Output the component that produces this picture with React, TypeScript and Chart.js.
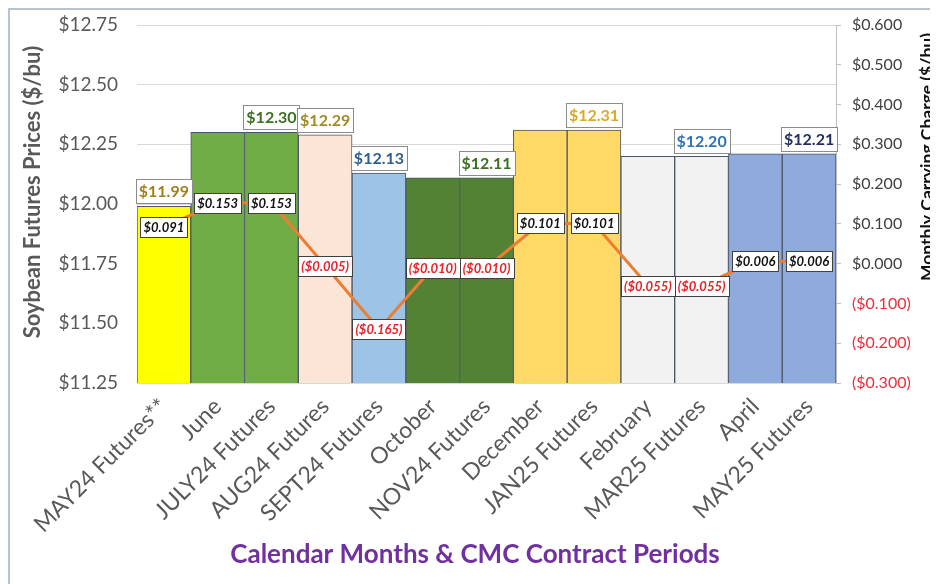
import React, { useEffect, useRef } from 'react';
import { Chart, registerables } from 'chart.js';

Chart.register(...registerables);

const categories = [
  'MAY24 Futures**', 'June', 'JULY24 Futures', 'AUG24 Futures', 'SEPT24 Futures', 'October',
  'NOV24 Futures', 'December', 'JAN25 Futures', 'February', 'MAR25 Futures', 'April', 'MAY25 Futures',
];
const prices = [11.99, 12.30, 12.30, 12.29, 12.13, 12.11, 12.11, 12.31, 12.31, 12.20, 12.20, 12.21, 12.21];
const carryingCharge = [0.091, 0.153, 0.153, -0.005, -0.165, -0.010, -0.010, 0.101, 0.101, -0.055, -0.055, 0.006, 0.006];
const priceLabelShown = [true, false, true, true, true, false, true, false, true, false, true, false, true];
const barColors = [
  '#FFFF00', '#70AD47', '#70AD47', '#FBE5D6', '#9DC3E6', '#548235', '#548235',
  '#FFD966', '#FFD966', '#F2F2F2', '#F2F2F2', '#8FAADC', '#8FAADC',
];
const priceLabelColors = [
  '#A0801E', '#3F6F24', '#3F6F24', '#A08A2A', '#2F5F8F', '#3F6F24', '#3F6F24',
  '#D9A92A', '#D9A92A', '#2E75B6', '#2E75B6', '#1F2F5F', '#1F2F5F',
];
const priceMin = 11.25;
const priceMax = 12.75;
const priceStep = 0.25;
const chargeMin = -0.3;
const chargeMax = 0.6;
const chargeStep = 0.1;

const leftTitle = 'Soybean Futures Prices ($/bu)';
const rightTitle = 'Monthly Carrying Charge ($/bu)';
const bottomTitle = 'Calendar Months & CMC Contract Periods';

const fmtCharge = (v: number) =>
  v < -1e-9 ? `($${Math.abs(v).toFixed(3)})` : `$${Math.abs(v).toFixed(3)}`;

const labelPlugin = {
  id: 'customLabels',
  afterDatasetsDraw(chart: any) {
    const ctx = chart.ctx as CanvasRenderingContext2D;
    const barMeta = chart.getDatasetMeta(0);
    const lineMeta = chart.getDatasetMeta(1);
    ctx.save();
    ctx.textAlign = 'center';
    ctx.textBaseline = 'middle';
    // price labels above bars
    ctx.font = 'bold 16px Lato';
    barMeta.data.forEach((bar: any, i: number) => {
      if (!priceLabelShown[i]) return;
      const text = '$' + prices[i].toFixed(2);
      const w = Math.round(ctx.measureText(text).width + 6);
      const h = 24;
      const x = Math.round(bar.x - w / 2);
      const y = Math.round(bar.y - h - 3);
      ctx.fillStyle = '#ffffff';
      ctx.fillRect(x, y, w, h);
      ctx.strokeStyle = '#8C8C8C';
      ctx.lineWidth = 1;
      ctx.strokeRect(x + 0.5, y + 0.5, w, h);
      ctx.fillStyle = priceLabelColors[i];
      ctx.fillText(text, bar.x, y + h / 2 + 1);
    });
    // carrying charge labels
    ctx.font = 'italic bold 13px Lato';
    lineMeta.data.forEach((pt: any, i: number) => {
      const v = carryingCharge[i];
      const text = fmtCharge(v);
      const w = Math.round(ctx.measureText(text).width + 6);
      const h = 20;
      const x = Math.round(pt.x - w / 2);
      const y = Math.round(pt.y - h / 2);
      ctx.fillStyle = '#ffffff';
      ctx.fillRect(x, y, w, h);
      ctx.strokeStyle = '#404040';
      ctx.lineWidth = 1;
      ctx.strokeRect(x + 0.5, y + 0.5, w, h);
      ctx.fillStyle = v < 0 ? '#E8202A' : '#111111';
      ctx.fillText(text, pt.x, y + h / 2 + 1);
    });
    ctx.restore();
  },
  afterDraw(chart: any) {
    const ctx = chart.ctx as CanvasRenderingContext2D;
    ctx.save();
    ctx.textAlign = 'center';
    ctx.textBaseline = 'middle';
    // left title
    ctx.save();
    ctx.translate(23, 182);
    ctx.rotate(-Math.PI / 2);
    ctx.font = 'bold 22px Lato';
    ctx.fillStyle = '#595959';
    ctx.fillText(leftTitle, 0, 0);
    ctx.restore();
    // right title
    ctx.save();
    ctx.translate(917, 147);
    ctx.rotate(-Math.PI / 2);
    ctx.font = 'bold 17.5px Lato';
    ctx.fillStyle = '#111111';
    ctx.fillText(rightTitle, 0, 0);
    ctx.restore();
    // bottom title
    ctx.font = 'bold 26px Lato';
    ctx.fillStyle = '#7030A0';
    ctx.fillText(bottomTitle, 465, 545);
    ctx.restore();
  },
};

export default function App() {
  const ref = useRef<HTMLCanvasElement>(null);
  useEffect(() => {
    Chart.defaults.font.family = 'Lato';
    const chart = new Chart(ref.current!, {
      type: 'bar',
      data: {
        labels: categories,
        datasets: [
          {
            type: 'bar',
            data: prices,
            yAxisID: 'y',
            backgroundColor: barColors,
            borderColor: '#4A5566',
            borderWidth: 1,
            categoryPercentage: 1,
            barPercentage: 1,
            order: 2,
          } as any,
          {
            type: 'line',
            data: carryingCharge,
            yAxisID: 'y1',
            borderColor: '#ED7D31',
            borderWidth: 3,
            pointRadius: 0,
            tension: 0,
            order: 1,
          } as any,
        ],
      },
      options: {
        responsive: false,
        animation: false,
        layout: { padding: { top: 0, left: 0, right: 0, bottom: 0 } },
        plugins: { legend: { display: false }, tooltip: { enabled: false } },
        scales: {
          x: {
            grid: { display: false, drawTicks: false },
            border: { display: false },
            ticks: {
              minRotation: 45,
              maxRotation: 45,
              autoSkip: false,
              padding: 10,
              color: '#595959',
              font: { size: 23, family: 'Lato' },
            },
            afterFit(scale: any) {
              scale.height = 201;
              scale.paddingLeft = 0;
              scale.paddingRight = 0;
            },
          },
          y: {
            position: 'left',
            min: priceMin,
            max: priceMax,
            ticks: {
              stepSize: priceStep,
              padding: 19,
              color: '#595959',
              font: { size: 19, family: 'Lato' },
              callback: (v: any) => '$' + Number(v).toFixed(2),
            },
            grid: { color: '#D9D9D9', drawTicks: false },
            border: { display: false },
            afterFit(scale: any) {
              scale.width = 127;
              scale.paddingTop = 15;
              scale.paddingBottom = 0;
            },
          },
          y1: {
            position: 'right',
            min: chargeMin,
            max: chargeMax,
            ticks: {
              stepSize: chargeStep,
              padding: 11,
              color: (c: any) => (c.tick && c.tick.value < -1e-9 ? '#E8303A' : '#404040'),
              font: { size: 16, family: 'Lato' },
              callback: (v: any) => fmtCharge(Number(v)),
            },
            grid: { drawOnChartArea: false, color: '#BFBFBF', tickLength: 5 },
            border: { display: true, color: '#BFBFBF' },
            afterFit(scale: any) {
              scale.width = 102;
              scale.paddingTop = 15;
              scale.paddingBottom = 0;
            },
          },
        },
      } as any,
      plugins: [labelPlugin],
    });
    return () => chart.destroy();
  }, []);
  return (
    <div
      style={{
        width: 930,
        height: 576,
        boxSizing: 'border-box',
        borderTop: '2px solid #B8C4D4',
        borderLeft: '2px solid #B8C4D4',
        background: '#ffffff',
        overflow: 'hidden',
      }}
    >
      <canvas ref={ref} width={928} height={574} style={{ display: 'block' }} />
    </div>
  );
}
